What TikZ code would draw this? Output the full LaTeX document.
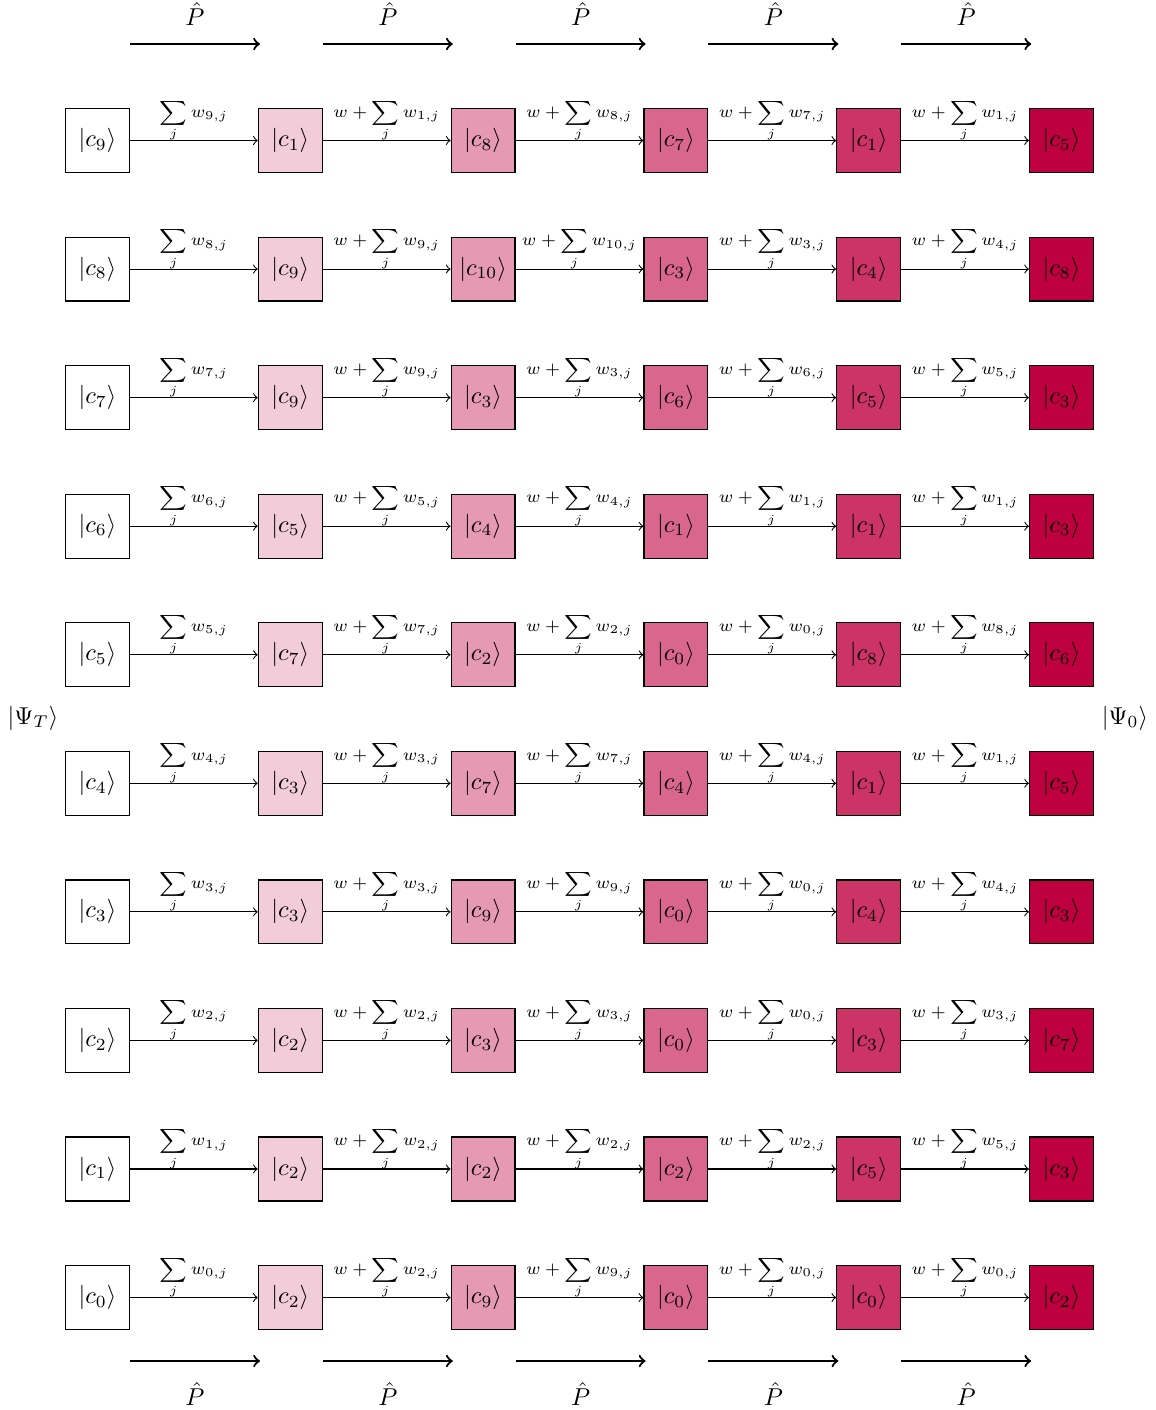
\documentclass[tikz,border=0pt]{standalone}
\usepackage{amsmath}
\begin{document}
\begin{tikzpicture}[x=0.41pt,y=-0.41pt,
  state/.style={draw, minimum size=26.2pt, inner sep=0pt, line width=0.5pt},
  edge/.style={->, line width=0.45pt},
  elab/.style={above, inner sep=0pt, yshift=-1pt, font=\scriptsize},
  parr/.style={->, line width=0.9pt},
]
\useasboundingbox (0,0) rectangle (1156,1410);
\foreach \r/\cs in {1/{9,1,8,7,1,5}, 2/{8,9,10,3,4,8}, 3/{7,9,3,6,5,3}, 4/{6,5,4,1,1,3},
  5/{5,7,2,0,8,6}, 6/{4,3,7,4,1,5}, 7/{3,3,9,0,4,3}, 8/{2,2,3,0,3,7},
  9/{1,2,2,2,5,3}, 10/{0,2,9,0,0,2}} {
  \foreach \v [count=\k, remember=\v as \pv (initially 0)] in \cs {
    \pgfmathsetmacro\xx{97.5+(\k-1)*192.8}
    \pgfmathsetmacro\yy{140.5+(\r-1)*128.56}
    \pgfmathtruncatemacro\sh{(\k-1)*20}
    \node[state, fill=purple!\sh] (b\r-\k) at (\xx,\yy) {$|c_{\v}\rangle$};
    \ifnum\k>1
      \pgfmathtruncatemacro\pk{\k-1}
      \ifnum\k=2
        \draw[edge] (b\r-\pk) -- node[elab] {$\displaystyle\sum_j w_{\pv,j}$} (b\r-\k);
      \else
        \draw[edge] (b\r-\pk) -- node[elab] {$\displaystyle w+\sum_j w_{\pv,j}$} (b\r-\k);
      \fi
    \fi
  }
}
\foreach \k in {1,...,5} {
  \pgfmathsetmacro\xa{130+(\k-1)*192.8}
  \pgfmathsetmacro\xb{260+(\k-1)*192.8}
  \pgfmathsetmacro\xm{195+(\k-1)*192.8}
  \coordinate (ta\k) at (\xa,44);
  \coordinate (tb\k) at (\xb,44);
  \draw[parr] (ta\k) -- (tb\k);
  \node (tp\k) at (\xm,14) {$\hat{P}$};
  \coordinate (ba\k) at (\xa,1361);
  \coordinate (bb\k) at (\xb,1361);
  \draw[parr] (ba\k) -- (bb\k);
  \node (bp\k) at (\xm,1394) {$\hat{P}$};
}
\node (psiT) at (33,718) {$|\Psi_T\rangle$};
\node (psi0) at (1125,718) {$|\Psi_0\rangle$};
\end{tikzpicture}
\end{document}
